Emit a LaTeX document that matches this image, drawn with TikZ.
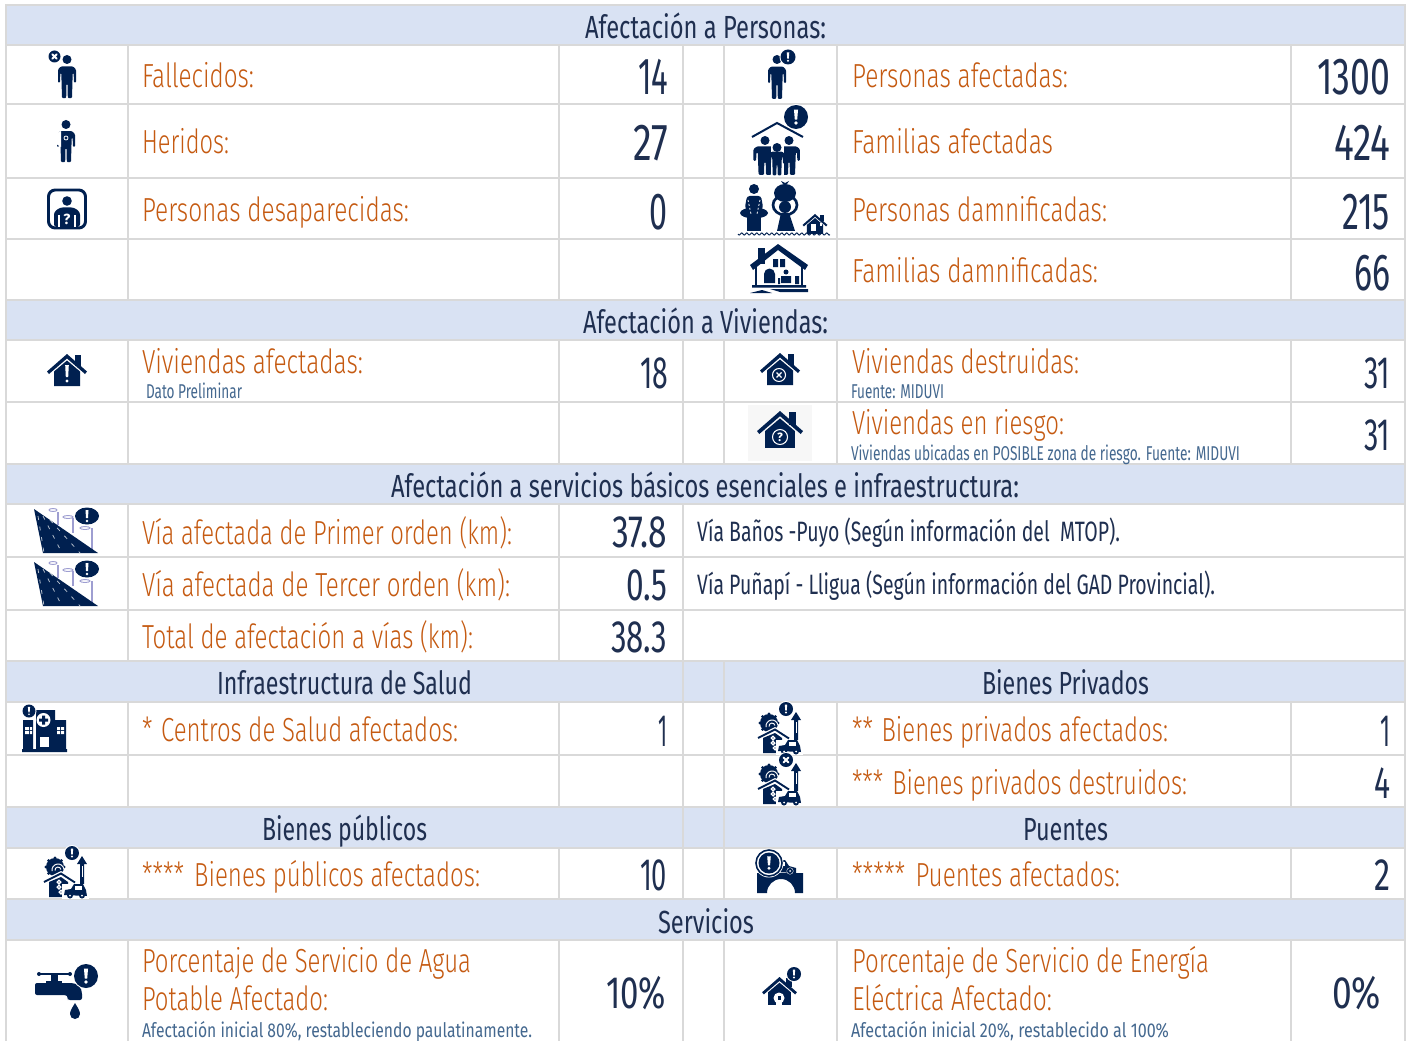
\documentclass[tikz,border=0pt]{standalone}
\usepackage{graphicx}
\usepackage{fontspec}
\setmainfont{Fira Sans}
\newfontfamily\lightf{Fira Sans Light}
\usetikzlibrary{shapes.geometric}
\definecolor{hdr}{HTML}{D9E2F3}
\definecolor{gridc}{HTML}{D9D9D9}
\definecolor{org}{HTML}{C55A11}
\definecolor{navyt}{HTML}{1F2F50}
\definecolor{smallb}{HTML}{44688F}
\definecolor{ico}{HTML}{002050}
\newcount\tcnt
\newcommand\fitw[2]{\sbox0{#2}\pgfmathsetmacro\fitr{#1*0.75/\the\wd0}\scalebox{\fitr}[1]{\usebox0}}
\newcommand\T[5]{\global\advance\tcnt by 1 \node[#1,name=t\the\tcnt] at (#2,#4) {\fitw{\the\numexpr#3-#2\relax}{#5}};}
\newcommand\bubbleE[3]{\fill[white] (#1,#2) circle ({#3+1});\fill[ico] (#1,#2) circle (#3);
  \fill[white] ({#1-0.17*#3},{#2-0.62*#3}) -- ({#1+0.17*#3},{#2-0.62*#3}) -- ({#1+0.1*#3},{#2+0.22*#3}) -- ({#1-0.1*#3},{#2+0.22*#3}) -- cycle;
  \fill[white] (#1,{#2+0.5*#3}) circle ({0.15*#3});}
\newcommand\bubbleX[3]{\fill[white] (#1,#2) circle ({#3+1});\fill[ico] (#1,#2) circle (#3);
  \draw[white,line width=1.4pt,line cap=round] ({#1-0.35*#3},{#2-0.35*#3}) -- ({#1+0.35*#3},{#2+0.35*#3}) ({#1+0.35*#3},{#2-0.35*#3}) -- ({#1-0.35*#3},{#2+0.35*#3});}
% man: origin top centre; x and y scale
\newcommand\man[4]{\fill[ico] (#1,{#2+4.5}) circle (4.5);
  \begin{scope}[shift={(#1,#2)},xscale=#3,yscale=#4]
  \fill[ico,rounded corners=0.8pt] (-6,9.5) -- (6,9.5) -- (9,12) -- (9,23) -- (7,23) -- (6.6,15) -- (5.7,15) -- (5,36) -- (0.8,36) -- (0.5,24) -- (-0.5,24) -- (-0.8,36) -- (-5,36) -- (-5.7,15) -- (-6.6,15) -- (-7,23) -- (-9,23) -- (-9,12) -- cycle;
\end{scope}}
% house: origin at roof peak, width 40, height 32
\newcommand\hut[3]{\begin{scope}[shift={(#1,#2)},scale=#3]
  \fill[ico] (-13,17.5) -- (0,6.5) -- (13,17.5) -- (13,32) -- (-13,32) -- cycle;
  \fill[ico] (8,1) rectangle (14,12);
  \fill[ico] (-20,17.5) -- (0,0) -- (20,17.5) -- (18,20) -- (0,4.5) -- (-18,20) -- cycle;
\end{scope}}
% road sign with alert
\newcommand\road[1]{\begin{scope}[shift={(0,#1)}]
  \draw[gray!45!white!80!blue,line width=1pt] (58,512) -- (58,525) (73,518) -- (73,533) (92,528) -- (92,553);
  \draw[gray!45!white!80!blue,line width=.7pt] (53,510) ellipse (4 and 1.5) (68,517) ellipse (5 and 1.5) (85,528) ellipse (5 and 1.5);
  \fill[ico] (34,509) -- (98,553) -- (43,553) -- cycle;
  \draw[white!70!ico,line width=.6pt,dash pattern=on 3pt off 5pt] (38,516) -- (44,553) (43,516) -- (62,553) (50,520) -- (80,553);
  \fill[ico] (87,516) ellipse (12 and 8.5);
  \fill[white] (85.5,510) -- (88.5,510) -- (88,518) -- (86,518) -- cycle;
  \fill[white] (87,521) circle (1.4);
\end{scope}}
% assets icon, base placed as in the first one
\newcommand\assets[4]{\begin{scope}[shift={(#1,#2)}]
  \foreach \a in {0,45,...,315} {\fill[ico] (769,723) ++(\a:9) circle (1.6);}
  \fill[ico] (769,723) circle (9);
  \draw[white,line width=.7pt] (772,726) ++(-10:3) arc (-10:-190:3) (772,726) ++(-10:6) arc (-10:-190:6);
  \draw[white,line width=2.6pt] (757,738) -- (775,729) -- (790,738.5);
  \fill[ico] (763,738) -- (775,733) -- (782,738) -- (782,753) -- (763,753) -- cycle;
  \draw[ico,line width=1.4pt] (758,738) -- (775,729.5) -- (789,738.5);
  \draw[white,line width=1pt] (773,738) circle (1.8) (773,743) circle (1.8) (775,748) circle (1.8);
  \fill[ico] (796,712) -- (801,720) -- (798,720) -- (798,741) -- (794,741) -- (794,720) -- (791,720) -- cycle;
  \fill[white] (795.5,722) rectangle (796.5,733);
  \fill[white] (776,740) rectangle (803,755);
  \fill[ico] (778,751) -- (779,746) -- (785,745) -- (788,740) -- (797,740) -- (800,746) -- (801,752) -- cycle;
  \fill[white] (789,742) rectangle (796,745.5);
  \fill[ico] (784,751.5) circle (3) (796,751.5) circle (3);
  \fill[white] (784,751.5) circle (1) (796,751.5) circle (1);
  #3{786}{709}{#4}
\end{scope}}
\tikzset{
  gridl/.style={draw=gridc,line width=1.5pt},
  hfill/.style={fill=hdr},
  tbase/.style={anchor=base west,inner sep=0pt,outer sep=0pt},
  head/.style={tbase,text=navyt,font=\fontsize{24}{24}\selectfont},
  lab/.style={tbase,text=org,font=\lightf\fontsize{25}{25}\selectfont},
  num/.style={tbase,text=navyt,font=\fontsize{39}{39}\selectfont},
  num2/.style={tbase,text=navyt,font=\fontsize{34}{34}\selectfont},
  note/.style={tbase,text=navyt,font=\fontsize{21}{21}\selectfont},
  tiny/.style={tbase,text=smallb,font=\fontsize{15}{15}\selectfont}
}
\begin{document}
\begin{tikzpicture}[x=0.75pt,y=-0.75pt]
\useasboundingbox (0,0) rectangle (1412,1041);
\fill[white] (0,0) rectangle (1412,1041);
% header bands
\foreach \a/\b in {5/45,300/340,464/504,661/702,807/848,899/940} \fill[hfill] (6,\a) rectangle (1405,\b);
% horizontal rules
\foreach \y in {5,45,104,178,239,300,340,402,464,504,557,610,661,702,755,807,848,899,940} \draw[gridl] (5.3,\y) -- (1405.7,\y);
% vertical rules
\draw[gridl] (6,5) -- (6,1041) (1405,5) -- (1405,1041);
\foreach \x in {128,559} \foreach \a/\b in {45/300,340/464,504/661,702/807,848/899,940/1041} \draw[gridl] (\x,\a) -- (\x,\b);
\foreach \a/\b in {45/300,340/464,504/899,940/1041} \draw[gridl] (683,\a) -- (683,\b);
\foreach \a/\b in {45/300,340/464,661/899,940/1041} \draw[gridl] (724,\a) -- (724,\b);
\foreach \x in {837,1291} \foreach \a/\b in {45/300,340/464,702/807,848/899,940/1041} \draw[gridl] (\x,\a) -- (\x,\b);
% headers
\T{head}{585}{826}{39}{Afectación a Personas:}
\T{head}{583}{828}{333}{Afectación a Viviendas:}
\T{head}{391}{1019}{497}{Afectación a servicios básicos esenciales e infraestructura:}
\T{head}{217}{472}{694}{Infraestructura de Salud}
\T{head}{982}{1149}{694}{Bienes Privados}
\T{head}{262}{427}{840}{Bienes públicos}
\T{head}{1023}{1108}{840}{Puentes}
\T{head}{658}{754}{933}{Servicios}
% left labels
\T{lab}{142}{254}{88}{Fallecidos:}
\T{lab}{142}{229}{154}{Heridos:}
\T{lab}{142}{409}{222}{Personas desaparecidas:}
\T{lab}{142}{363}{373}{Viviendas afectadas:}
\T{tiny}{146}{242}{398}{Dato Preliminar}
\T{lab}{142}{512}{544}{Vía afectada de Primer orden (km):}
\T{lab}{142}{510}{596}{Vía afectada de Tercer orden (km):}
\T{lab}{142}{473}{648}{Total de afectación a vías (km):}
\T{lab}{142}{458}{741}{*\kern2pt{} Centros de Salud afectados:}
\T{lab}{142}{480}{886}{****\kern3.5pt{} Bienes públicos afectados:}
\T{lab}{142}{471}{972}{Porcentaje de Servicio de Agua}
\T{lab}{142}{328}{1010}{Potable Afectado:}
\T{tiny}{142}{532}{1037}{Afectación inicial 80\%, restableciendo paulatinamente.}
% right labels
\T{lab}{852}{1068}{88}{Personas afectadas:}
\T{lab}{852}{1053}{154}{Familias afectadas}
\T{lab}{852}{1107}{222}{Personas damnificadas:}
\T{lab}{852}{1098}{282}{Familias damnificadas:}
\T{lab}{852}{1079}{373}{Viviendas destruidas:}
\T{tiny}{851}{944}{398}{Fuente: MIDUVI}
\T{lab}{852}{1064}{434}{Viviendas en riesgo:}
\T{tiny}{851}{1240}{460}{Viviendas ubicadas en POSIBLE zona de riesgo. Fuente: MIDUVI}
\T{lab}{852}{1168}{741}{**\kern2pt{} Bienes privados afectados:}
\T{lab}{852}{1187}{794}{***\kern2.5pt{} Bienes privados destruidos:}
\T{lab}{852}{1120}{886}{*****\kern3.5pt{} Puentes afectados:}
\T{lab}{852}{1209}{972}{Porcentaje de Servicio de Energía}
\T{lab}{852}{1052}{1010}{Eléctrica Afectado:}
\T{tiny}{851}{1169}{1037}{Afectación inicial 20\%, restablecido al 100\%}
% notes
\T{note}{697}{1120}{541}{Vía Baños -Puyo (Según información del\ \ MTOP).}
\T{note}{697}{1215}{594}{Vía Puñapí - Lligua (Según información del GAD Provincial).}
% values
\T{num}{638}{668}{95}{14}
\T{num}{633}{668}{161}{27}
\T{num}{649}{667}{229}{0}
\T{num2}{640}{668}{388}{18}
\T{num2}{612}{667}{547}{37.8}
\T{num2}{626}{667}{600}{0.5}
\T{num2}{611}{667}{652}{38.3}
\T{num2}{658}{667}{746}{1}
\T{num2}{640}{667}{890}{10}
\T{num2}{606}{666}{1008}{10\%}
\T{num}{1317}{1390}{95}{1300}
\T{num}{1334}{1390}{161}{424}
\T{num}{1342}{1390}{229}{215}
\T{num}{1354}{1390}{290}{66}
\T{num2}{1364}{1390}{388}{31}
\T{num2}{1364}{1390}{450}{31}
\T{num2}{1380}{1390}{746}{1}
\T{num2}{1374}{1390}{798}{4}
\T{num2}{1374}{1390}{890}{2}
\T{num2}{1332}{1381}{1008}{0\%}
% ---- icons ----
% fallecidos
\man{67}{55}{1.0}{1.2}
\bubbleX{54.5}{56.5}{6}
% heridos
\man{66}{120}{1.0}{1.17}
\fill[white] (57,133) -- (61,131) -- (61,147) -- (56,144) -- cycle;
\draw[white,line width=.6pt] (66,138) circle (2);
% desaparecidas
\draw[ico,line width=2.2pt,rounded corners=5pt] (48.5,190) rectangle (85.5,228);
\fill[ico] (67,201) circle (4.8);
\fill[ico,rounded corners=2pt] (54,227) -- (54,212) -- (60,207.5) -- (74,207.5) -- (80,212) -- (80,227) -- cycle;
\draw[white,line width=.8pt] (59,215) -- (59,227) (75,215) -- (75,227);
\node[name=iq1,inner sep=0pt,text=white,font=\fontsize{11}{11}\selectfont\bfseries] at (67,219) {?};
% personas afectadas
\man{777}{55}{1.0}{1.22}
\bubbleE{788}{57}{7.5}
% familias afectadas
\draw[ico,line width=1.5pt] (752,137) -- (777,123) -- (803,137);
\bubbleE{796}{117}{12}
\man{765}{136}{1.28}{1.08}
\man{789}{136}{1.2}{1.08}
\fill[white] (770.5,143) rectangle (783.5,176);
\man{777}{143}{0.85}{0.9}
% personas damnificadas
\fill[ico] (754,189) circle (5);
\fill[ico,rounded corners=2pt] (745,207) -- (747,196) -- (761,196) -- (763,207) -- (761,212) -- (747,212) -- cycle;
\fill[ico] (754,213) ellipse (14 and 5.5);
\fill[ico] (747,217) rectangle (761,231);
\draw[white,line width=.6pt,dash pattern=on 1.5pt off 1.5pt] (748,200) -- (751,214) (760,200) -- (757,214);
\fill[ico] (785,193) ellipse (11 and 9);
\fill[ico] (785,183) -- (781,181) -- (783,184) -- (787,184) -- (789,181) -- cycle;
\draw[ico,line width=2pt] (785,205) ellipse (12 and 10);
\fill[ico] (785,207) circle (6);
\fill[ico] (781,213) -- (789,213) -- (795,231) -- (777,231) -- cycle;
\hut{815}{214}{0.62}
\fill[white] (811,224) rectangle (816,231);
\fill[white] (820,223) rectangle (822,226);
\draw[ico,line width=.7pt] plot[domain=0:92,samples=120,smooth] ({738+\x},{234+1.1*sin(\x*72)});
% familias damnificadas
\fill[ico] (758,248) rectangle (765,264);
\fill[ico] (750,265) -- (778,244) -- (808,265) -- (805,270) -- (778,250) -- (753,270) -- cycle;
\draw[ico,line width=1.6pt] (756,267) -- (756,287) (802,267) -- (802,285);
\fill[ico] (773,259) rectangle (778,267) (780,259) rectangle (785,267);
\fill[ico] (764,283) -- (764,274) arc (180:360:5.5) -- (775,283) -- cycle;
\fill[ico] (786,272) circle (2.5) (781,283) -- (781,276) -- (791,276) -- (791,283) -- cycle (795,276) rectangle (799,284) (778,278) rectangle (780,284);
\fill[ico] (752,285) rectangle (806,287.5) (750,293) -- (762,290) -- (772,293) -- cycle (770,289) -- (808,289) -- (808,292) -- (780,292) -- cycle;
% viviendas afectadas
\hut{67}{354}{1.0}
\fill[white] (65.2,365) -- (68.8,365) -- (68.2,377) -- (65.8,377) -- cycle;
\fill[white] (67,381) circle (1.7);
% viviendas destruidas
\hut{780}{353}{1.0}
\draw[white,line width=.8pt] (779,375) circle (6.5);
\draw[white,line width=.9pt] (776.5,372.5) -- (781.5,377.5) (781.5,372.5) -- (776.5,377.5);
% viviendas en riesgo
\fill[black!3] (748,405) rectangle (812,461);
\hut{780}{411}{1.15}
\draw[white,line width=.8pt] (780,437) circle (7.5);
\node[name=iq2,inner sep=0pt,text=white,font=\fontsize{9}{9}\selectfont\bfseries] at (780,437) {?};
% roads
\road{0}
\road{53}
% hospital
\fill[ico] (23,720) rectangle (33,750) (55,720) rectangle (66,750) (36,710) rectangle (55,750) (22,749) rectangle (67,752);
\fill[white] (25,727) rectangle (29,730) (30,727) rectangle (32,730) (25,731) rectangle (29,734) (30,731) rectangle (32,734);
\fill[white] (57,727) rectangle (60,730) (61,727) rectangle (64,730) (57,731) rectangle (60,734) (61,731) rectangle (64,734);
\fill[white] (43.5,720) circle (7);
\fill[ico] (42,715.5) rectangle (45,724.5) (39,718.5) rectangle (48,721.5);
\fill[white] (40,737) rectangle (49,747);
\bubbleE{29}{711}{6.5}
% private and public assets
\assets{0}{0}{\bubbleE}{7}
\assets{0}{51}{\bubbleX}{7}
\assets{-714}{144}{\bubbleE}{7}
% bridge
\fill[ico] (757,873) -- (803,873) -- (803,893) -- (795,893) arc (0:-180:14) -- (757,893) -- cycle;
\fill[ico] (776,872) -- (777,860) -- (785,860) -- (789,866) -- (796,868) -- (796,873) -- cycle;
\fill[white] (781,862) rectangle (785,866);
\fill[white] (790,871) circle (3.5);
\fill[ico] (790,871) circle (3);
\fill[white] (790,871) circle (1);
\fill[white] (769,863) circle (14.5);
\draw[ico,line width=1.2pt] (769,863) circle (13);
\bubbleE{769}{863}{10.5}
% tap
\draw[ico,line width=2pt,line cap=round] (39,974) -- (70,974);
\fill[ico] (39,974) circle (2) (70,974) circle (2);
\fill[ico] (51,974) rectangle (58,984);
\fill[ico] (46,981) rectangle (62,985);
\fill[ico,rounded corners=1.5pt] (35,983) -- (69,983) .. controls (78,983) and (82,988) .. (82,996) -- (82,1000) -- (68,1000) -- (68,998) .. controls (67,996) and (65,995) .. (62,995) -- (35,995) -- cycle;
\fill[ico] (75,1003) .. controls (72,1008) and (70,1011) .. (70,1014) arc (180:0:5) .. controls (80,1011) and (78,1008) .. (75,1003) -- cycle;
\bubbleE{86}{976}{12}
% energy
\hut{779.5}{977}{0.87}
\fill[white] (779,998) circle (5.5);
\fill[white] (776,1002) rectangle (782,1007);
\fill[white] (777.5,1008) rectangle (780.5,1010);
\fill[ico] (777.5,995.5) rectangle (780.5,1000);
\bubbleE{794}{974}{7}
\end{tikzpicture}
\end{document}
